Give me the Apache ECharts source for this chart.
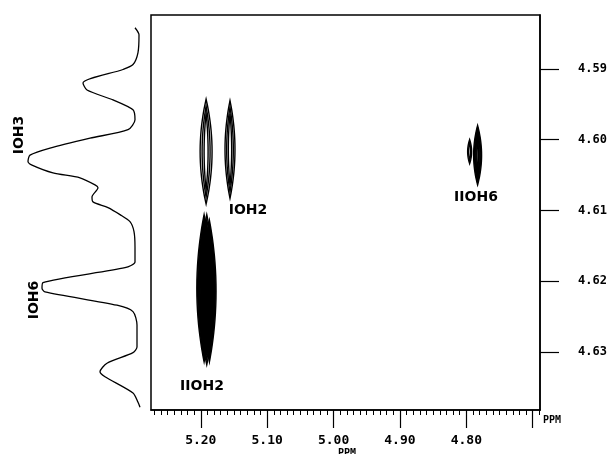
<!DOCTYPE html>
<html>
<head>
<meta charset="utf-8">
<script src="https://cdn.jsdelivr.net/npm/echarts@6/dist/echarts.min.js"></script>
<style>
  html, body { margin: 0; background: #fff; }
  #chart { width: 616px; height: 454px; }
</style>
</head>
<body>
<div id="chart"></div>
<script>
// F2 axis (ppm), drawn high -> low from left to right
const xMajorTicks = [5.20, 5.10, 5.00, 4.90, 4.80, 4.70]
const xLabelTicks = [5.20, 5.10, 5.00, 4.90, 4.80]
const xMinorTicks = []
for (let k = 469; k <= 527; k++) xMinorTicks.push(k / 100)
// F1 axis (ppm), right side
const yTicks = [4.59, 4.60, 4.61, 4.62, 4.63]

// cross peaks: centre (f2, f1), half widths, number of contour levels
const peakF2 = [5.192, 5.156, 5.195, 5.187, 5.191, 4.783, 4.795]
const peakF1 = [4.6017, 4.6014, 4.6210, 4.6214, 4.6212, 4.6022, 4.6017]
const peakHalfF2 = [0.009, 0.0075, 0.011, 0.010, 0.012, 0.006, 0.003]
const peakHalfF1 = [0.0074, 0.0069, 0.0104, 0.0100, 0.0106, 0.0042, 0.0017]
const peakLevels = [3, 3, 9, 8, 6, 5, 2]

// 1D projection along F1 (left trace)
const projShift = [4.5842, 4.5852, 4.5877, 4.5894, 4.5901, 4.5920, 4.5930, 4.5944, 4.5958, 4.5972,
  4.5986, 4.5998, 4.6012, 4.6022, 4.6031, 4.6036, 4.6047, 4.6054, 4.6064, 4.6068,
  4.6081, 4.6088, 4.6096, 4.6106, 4.6116, 4.6130, 4.6152, 4.6173, 4.6181, 4.6202,
  4.6210, 4.6215, 4.6234, 4.6243, 4.6262, 4.6293, 4.6301, 4.6316, 4.6328, 4.6335,
  4.6358, 4.6371, 4.6378]
const projIntensity = [5, 1, 2, 7, 17, 57, 53, 27, 7, 5,
  12, 50, 90, 110, 112, 108, 87, 60, 45, 42,
  48, 47, 32, 20, 10, 6, 5, 5, 15, 97,
  98, 95, 23, 7, 3, 3, 7, 33, 40, 35,
  7, 2, 0]

const X_MIN = 4.689, X_MAX = 5.275
const Y_MIN = 4.5824, Y_MAX = 4.6382
const tickFont = 'DejaVu Sans Mono'
const labelFont = 'DejaVu Sans'

const chart = echarts.init(document.getElementById('chart'), null, { renderer: 'canvas' })

function renderPeak(params, api) {
  const c = api.coord([api.value(0), api.value(1)])
  const e = api.coord([api.value(0) + api.value(2), api.value(1) + api.value(3)])
  const hw = Math.abs(e[0] - c[0])
  const hh = Math.abs(e[1] - c[1])
  const n = api.value(4)
  const children = []
  for (let k = 0; k < n; k++) {
    const s = (k + 1) / n
    const pts = []
    for (let i = 0; i <= 60; i++) {
      const t = i / 60 * Math.PI * 2
      const sn = Math.sin(t)
      pts.push([c[0] + hw * s * sn * Math.abs(sn), c[1] - hh * (0.6 + 0.4 * s) * Math.cos(t)])
    }
    children.push({
      type: 'polygon',
      shape: { points: pts },
      style: { fill: 'none', stroke: '#000', lineWidth: 1.4 }
    })
  }
  return { type: 'group', children }
}

const peakData = peakF2.map((x, i) => [x, peakF1[i], peakHalfF2[i], peakHalfF1[i], peakLevels[i]])
const projData = projShift.map((y, i) => [projIntensity[i], y])

const option = {
  animation: false,
  backgroundColor: '#fff',
  grid: [
    { left: 151, top: 15, width: 389, height: 395, show: true, borderColor: '#000', borderWidth: 1.5, backgroundColor: 'transparent' },
    { left: 25, top: 15, width: 115, height: 395 }
  ],
  xAxis: [
    {
      // minor ticks every 0.01
      type: 'value', gridIndex: 0, position: 'bottom', inverse: true, min: X_MIN, max: X_MAX,
      axisLine: { show: true, lineStyle: { color: '#000', width: 1.5 } },
      axisTick: { show: true, customValues: xMinorTicks, length: 5, lineStyle: { color: '#000', width: 1 } },
      axisLabel: { show: false },
      splitLine: { show: false }
    },
    {
      type: 'value', gridIndex: 0, position: 'bottom', inverse: true, min: X_MIN, max: X_MAX,
      axisLine: { show: false },
      axisTick: { show: true, customValues: xMajorTicks, length: 18, lineStyle: { color: '#000', width: 1.2 } },
      axisLabel: {
        show: true, customValues: xLabelTicks, margin: 24,
        formatter: v => v.toFixed(2),
        fontFamily: tickFont, fontSize: 13, fontWeight: 'bold', color: '#000'
      },
      splitLine: { show: false }
    },
    {
      type: 'value', gridIndex: 1, inverse: true, min: 0, max: 115, show: false
    }
  ],
  yAxis: [
    {
      type: 'value', gridIndex: 0, position: 'right', inverse: true, min: Y_MIN, max: Y_MAX,
      axisLine: { show: true, lineStyle: { color: '#000', width: 1.5 } },
      axisTick: { show: true, customValues: yTicks, length: 19, lineStyle: { color: '#000', width: 1.2 } },
      axisLabel: {
        show: true, customValues: yTicks, margin: 38,
        formatter: v => v.toFixed(2),
        fontFamily: tickFont, fontSize: 12, fontWeight: 'bold', color: '#000'
      },
      splitLine: { show: false }
    },
    {
      type: 'value', gridIndex: 1, inverse: true, min: Y_MIN, max: Y_MAX, show: false
    }
  ],
  series: [
    {
      type: 'custom',
      xAxisIndex: 0,
      yAxisIndex: 0,
      renderItem: renderPeak,
      clip: true,
      data: peakData
    },
    {
      type: 'line',
      xAxisIndex: 2,
      yAxisIndex: 1,
      data: projData,
      symbol: 'none',
      smooth: 0.25,
      lineStyle: { color: '#000', width: 1.3 }
    }
  ],
  graphic: [
    { type: 'text', x: 248, y: 210, style: { text: 'IOH2', font: 'bold 14px ' + labelFont, fill: '#000', textAlign: 'center', textVerticalAlign: 'middle' } },
    { type: 'text', x: 202, y: 386, style: { text: 'IIOH2', font: 'bold 14px ' + labelFont, fill: '#000', textAlign: 'center', textVerticalAlign: 'middle' } },
    { type: 'text', x: 476, y: 197, style: { text: 'IIOH6', font: 'bold 14px ' + labelFont, fill: '#000', textAlign: 'center', textVerticalAlign: 'middle' } },
    { type: 'text', x: 19, y: 135, rotation: Math.PI / 2, style: { text: 'IOH3', font: 'bold 14px ' + labelFont, fill: '#000', textAlign: 'center', textVerticalAlign: 'middle' } },
    { type: 'text', x: 34, y: 300, rotation: Math.PI / 2, style: { text: 'IOH6', font: 'bold 14px ' + labelFont, fill: '#000', textAlign: 'center', textVerticalAlign: 'middle' } },
    { type: 'text', x: 543, y: 420, style: { text: 'PPM', font: 'bold 10px ' + tickFont, fill: '#000', textAlign: 'left', textVerticalAlign: 'middle' } },
    { type: 'text', x: 347, y: 448, style: { text: 'PPM', font: 'bold 10px ' + tickFont, fill: '#000', textAlign: 'center', textVerticalAlign: 'top' } }
  ]
}

chart.setOption(option)
</script>
</body>
</html>
